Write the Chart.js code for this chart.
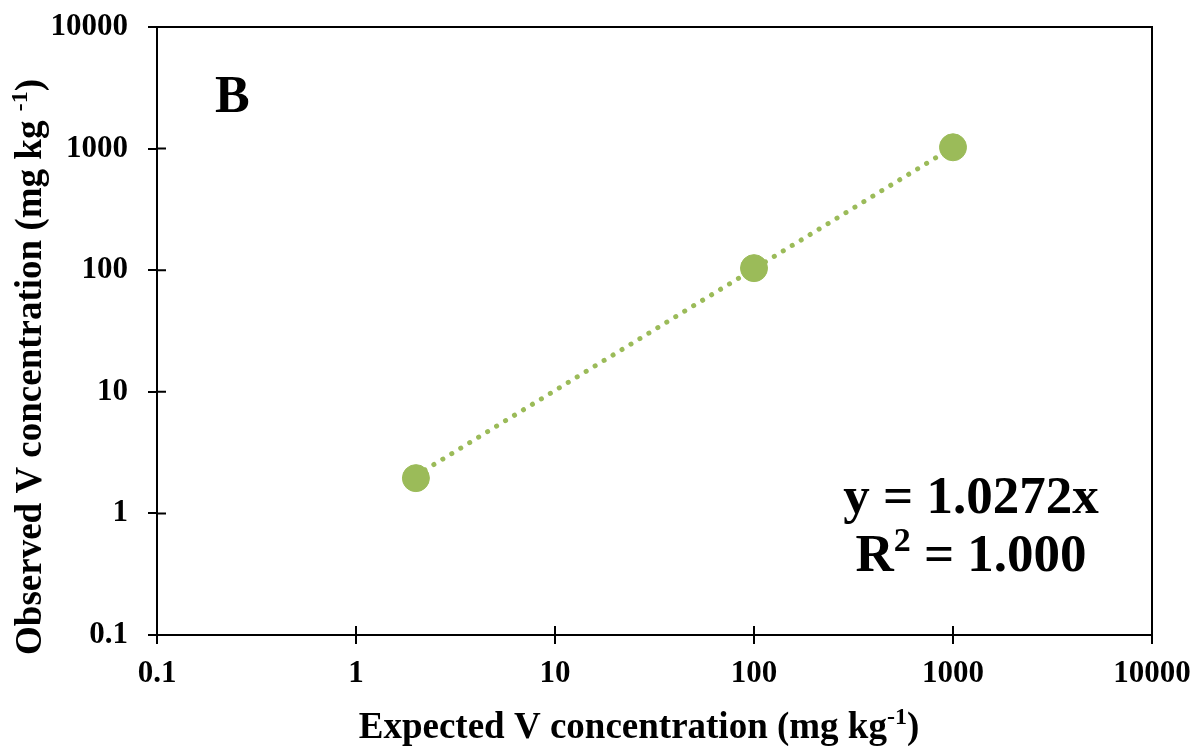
<!DOCTYPE html>
<html>
<head>
<meta charset="utf-8">
<script src="https://cdn.jsdelivr.net/npm/chart.js@4.4.1/dist/chart.umd.min.js"></script>
<style>
  body{margin:0;background:#fff;}
  #wrap{width:1195px;height:746px;}
</style>
</head>
<body>
<div id="wrap"><canvas id="c" width="1195" height="746"></canvas></div>
<script>
// data
const expected=[2,100,1000];
const observed=[1.95,104,1025];
const trendX=[2,1000];
const trendY=[2.05,1027.2];
const tickVals=[0.1,1,10,100,1000,10000];
const tickLabels=['0.1','1','10','100','1000','10000'];

const GREEN='#9BBB59';
const SERIF="'Liberation Serif','Times New Roman',serif";

// draw text made of normal + superscript parts, centred at x
function richText(ctx,parts,x,y,size){
  let w=0;
  parts.forEach(p=>{
    ctx.font=`bold ${p.sup?Math.round(size*0.65):size}px ${SERIF}`;
    p.w=ctx.measureText(p.t).width; w+=p.w;
  });
  let cx=x-w/2;
  parts.forEach(p=>{
    ctx.font=`bold ${p.sup?Math.round(size*0.65):size}px ${SERIF}`;
    ctx.fillText(p.t,cx,p.sup?y-size*0.38:y);
    cx+=p.w;
  });
}

const decor={
  id:'decor',
  afterDraw(chart){
    const {ctx,chartArea:a,scales}=chart;
    ctx.save();
    ctx.strokeStyle='#000';ctx.lineWidth=2;
    ctx.strokeRect(a.left,a.top,a.right-a.left,a.bottom-a.top);
    // inner half of the crossing ticks
    ctx.beginPath();
    tickVals.forEach(v=>{
      const px=scales.x.getPixelForValue(v);
      ctx.moveTo(px,a.bottom);ctx.lineTo(px,a.bottom-9);
      const py=scales.y.getPixelForValue(v);
      ctx.moveTo(a.left,py);ctx.lineTo(a.left+9,py);
    });
    ctx.stroke();

    ctx.fillStyle='#000';ctx.textBaseline='alphabetic';ctx.textAlign='left';
    // panel letter
    ctx.font=`bold 52px ${SERIF}`;
    ctx.fillText('B',215,112);
    // equation
    richText(ctx,[{t:'y = 1.0272x'}],971,513,53);
    richText(ctx,[{t:'R'},{t:'2',sup:true},{t:' = 1.000'}],971,571,53);
    // axis titles
    richText(ctx,[{t:'Expected V concentration (mg kg'},{t:'-1',sup:true},{t:')'}],639,738,37);
    ctx.save();
    ctx.translate(41,367);ctx.rotate(-Math.PI/2);
    richText(ctx,[{t:'Observed V concentration (mg kg '},{t:'-1',sup:true},{t:')'}],0,0,37);
    ctx.restore();
    ctx.restore();
  }
};

function logAxis(pos){
  return {
    type:'logarithmic',position:pos,min:0.1,max:10000,
    afterBuildTicks:s=>{s.ticks=tickVals.map(v=>({value:v}));},
    afterFit:s=>{
      if(pos==='left')s.width=157; else s.height=111;
      s.paddingTop=s.paddingBottom=s.paddingLeft=s.paddingRight=0;
    },
    grid:{drawOnChartArea:false,drawTicks:true,tickLength:9,color:'#000',lineWidth:2},
    border:{display:true,color:'#000',width:2},
    ticks:{
      color:'#000',padding:pos==='left'?20:11,autoSkip:false,maxRotation:0,
      font:{family:SERIF,size:31,weight:'bold'},
      callback:(v,i)=>tickLabels[i]
    }
  };
}

new Chart(document.getElementById('c').getContext('2d'),{
  type:'scatter',
  data:{datasets:[
    {label:'trend',type:'line',data:trendX.map((x,i)=>({x,y:trendY[i]})),
     borderColor:GREEN,borderWidth:5,borderDash:[0.1,10.4],borderCapStyle:'round',
     pointRadius:0,fill:false,order:1},
    {label:'V',data:expected.map((x,i)=>({x,y:observed[i]})),
     backgroundColor:GREEN,borderColor:GREEN,pointRadius:13.5,pointHoverRadius:13.5,order:0},
  ]},
  options:{
    responsive:false,animation:false,
    layout:{padding:{left:0,top:27,right:43,bottom:0}},
    plugins:{legend:{display:false},tooltip:{enabled:false}},
    scales:{x:logAxis('bottom'),y:logAxis('left')}
  },
  plugins:[decor]
});
</script>
</body>
</html>
